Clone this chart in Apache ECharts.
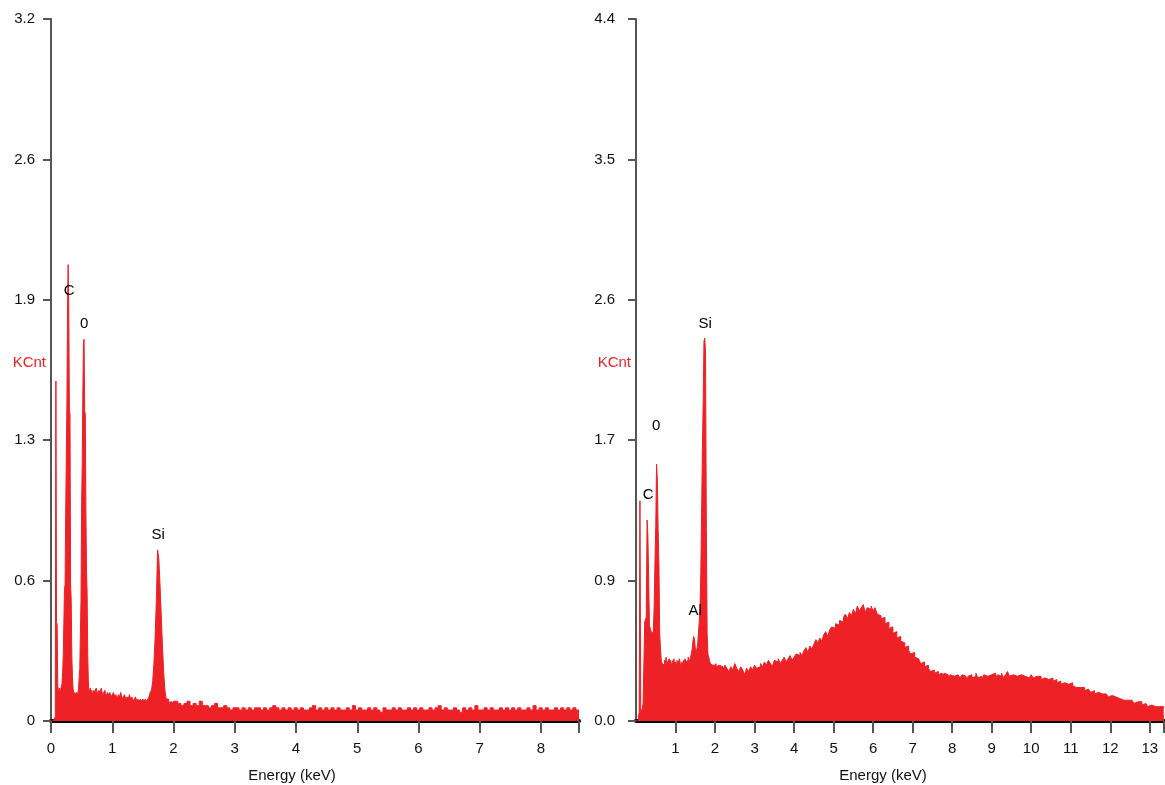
<!DOCTYPE html>
<html>
<head>
<meta charset="utf-8">
<title>EDS spectra</title>
<script src="https://cdn.jsdelivr.net/npm/echarts@6/dist/echarts.min.js"></script>
<style>
  html, body { margin: 0; padding: 0; background: #fff; }
  #chart { width: 1165px; height: 785px; }
</style>
</head>
<body>
<div id="chart"></div>
<script>
// ---- data (energy in keV, counts in KCnt) ----
// left spectrum, 0.00 - 0.70 keV, 0.01 keV channels
var leftLowStart = 0, leftLowStep = 0.01;
var leftLowCounts = [
  0, 0, 0, 0, 0, 0, 0, 0.02, 1.55, 0.45,
  0.44, 0.16, 0.14, 0.13, 0.15, 0.13, 0.14, 0.16, 0.17, 0.22,
  0.30, 0.45, 0.60, 0.62, 0.95, 1.21, 1.45, 1.88, 2.08, 1.89,
  1.42, 1.40, 0.62, 0.55, 0.30, 0.20, 0.15, 0.13, 0.12, 0.13,
  0.12, 0.12, 0.13, 0.12, 0.13, 0.15, 0.20, 0.24, 0.40, 0.55,
  1.00, 1.17, 1.50, 1.72, 1.74, 1.41, 1.40, 0.95, 0.68, 0.58,
  0.30, 0.18, 0.14, 0.13, 0.15, 0.12, 0.14, 0.13, 0.12, 0.14,
  0.13
];
// left spectrum, 0.72 - 2.00 keV, 0.02 keV channels
var leftMidStart = 0.72, leftMidStep = 0.02;
var leftMidCounts = [
  0.14, 0.15, 0.12, 0.14, 0.13, 0.15, 0.12, 0.13, 0.14, 0.11,
  0.13, 0.12, 0.13, 0.11, 0.12, 0.13, 0.11, 0.12, 0.10, 0.12,
  0.11, 0.13, 0.10, 0.11, 0.12, 0.10, 0.11, 0.10, 0.12, 0.10,
  0.11, 0.09, 0.10, 0.11, 0.09, 0.10, 0.09, 0.10, 0.09, 0.10,
  0.09, 0.10, 0.09, 0.10, 0.11, 0.13, 0.14, 0.18, 0.26, 0.38,
  0.55, 0.78, 0.74, 0.62, 0.48, 0.34, 0.22, 0.14, 0.10, 0.10,
  0.09, 0.08, 0.09, 0.08, 0.09
];
// left spectrum, 2.02 - 8.57 keV, 0.05 keV channels
var leftTailStart = 2.02, leftTailStep = 0.05;
var leftTailCounts = [
  0.09, 0.08, 0.07, 0.08, 0.09, 0.07, 0.08, 0.07, 0.09, 0.07,
  0.07, 0.06, 0.07, 0.08, 0.06, 0.06, 0.07, 0.06, 0.05, 0.06,
  0.06, 0.05, 0.06, 0.05, 0.06, 0.05, 0.06, 0.06, 0.05, 0.06,
  0.05, 0.06, 0.07, 0.06, 0.05, 0.06, 0.05, 0.06, 0.05, 0.06,
  0.05, 0.06, 0.05, 0.05, 0.06, 0.07, 0.05, 0.06, 0.05, 0.06,
  0.05, 0.06, 0.05, 0.06, 0.05, 0.05, 0.06, 0.05, 0.07, 0.05,
  0.06, 0.05, 0.05, 0.06, 0.05, 0.06, 0.05, 0.04, 0.06, 0.05,
  0.05, 0.06, 0.05, 0.06, 0.05, 0.05, 0.06, 0.05, 0.06, 0.05,
  0.06, 0.05, 0.05, 0.06, 0.05, 0.06, 0.07, 0.05, 0.06, 0.05,
  0.05, 0.06, 0.05, 0.04, 0.06, 0.05, 0.06, 0.05, 0.07, 0.05,
  0.05, 0.06, 0.05, 0.06, 0.05, 0.05, 0.06, 0.05, 0.06, 0.05,
  0.06, 0.05, 0.06, 0.05, 0.05, 0.06, 0.05, 0.07, 0.05, 0.06,
  0.05, 0.06, 0.05, 0.05, 0.06, 0.05, 0.06, 0.05, 0.06, 0.05,
  0.06, 0.05
];

// right spectrum, 0.00 - 0.70 keV, 0.02 keV channels
var rightLowStart = 0, rightLowStep = 0.02;
var rightLowCounts = [
  0, 0, 0, 0.03, 0.05, 1.38, 0.05, 0.06, 0.08, 0.11,
  0.12, 0.62, 0.62, 0.65, 1.26, 1.17, 0.90, 0.60, 0.58, 0.56,
  0.57, 0.55, 0.58, 0.72, 1.00, 1.22, 1.61, 1.51, 1.20, 0.98,
  0.55, 0.45, 0.38, 0.36, 0.37, 0.35
];
// right spectrum, 0.72 - 2.10 keV, 0.02 keV channels
var rightMidStart = 0.72, rightMidStep = 0.02;
var rightMidCounts = [
  0.38, 0.36, 0.40, 0.35, 0.37, 0.36, 0.39, 0.35, 0.38, 0.34,
  0.37, 0.36, 0.39, 0.35, 0.37, 0.34, 0.38, 0.36, 0.35, 0.39,
  0.36, 0.34, 0.37, 0.35, 0.38, 0.36, 0.39, 0.37, 0.36, 0.38,
  0.40, 0.37, 0.38, 0.40, 0.42, 0.45, 0.50, 0.53, 0.51, 0.46,
  0.43, 0.45, 0.48, 0.55, 0.62, 0.70, 0.93, 1.30, 1.70, 2.00,
  2.38, 2.40, 2.30, 1.20, 0.55, 0.42, 0.40, 0.38, 0.36, 0.37,
  0.35, 0.36, 0.34, 0.35, 0.33, 0.36, 0.34, 0.33, 0.35, 0.34
];
// right spectrum, 2.15 - 13.35 keV, 0.05 keV channels
var rightTailStart = 2.15, rightTailStep = 0.05;
var rightTailCounts = [
  0.34, 0.32, 0.35, 0.33, 0.31, 0.34, 0.32, 0.36, 0.33, 0.31, 0.34, 0.32, 0.29, 0.33, 0.31, 0.34, 0.32, 0.35, 0.33, 0.34,
  0.36, 0.34, 0.37, 0.35, 0.38, 0.36, 0.34, 0.38, 0.37, 0.39, 0.36, 0.38, 0.40, 0.37, 0.39, 0.41, 0.38, 0.40, 0.42, 0.41,
  0.43, 0.41, 0.44, 0.46, 0.43, 0.47, 0.45, 0.48, 0.51, 0.49, 0.52, 0.50, 0.54, 0.56, 0.53, 0.57, 0.59, 0.58, 0.61, 0.60,
  0.63, 0.62, 0.65, 0.67, 0.64, 0.68, 0.66, 0.70, 0.67, 0.72, 0.69, 0.71, 0.73, 0.68, 0.71, 0.70, 0.72, 0.69, 0.71, 0.67,
  0.66, 0.64, 0.65, 0.61, 0.62, 0.58, 0.59, 0.55, 0.56, 0.52, 0.53, 0.50, 0.49, 0.46, 0.47, 0.44, 0.42, 0.43, 0.40, 0.39,
  0.38, 0.36, 0.37, 0.34, 0.35, 0.33, 0.31, 0.32, 0.30, 0.31, 0.29, 0.30, 0.28, 0.30, 0.29, 0.27, 0.29, 0.28, 0.27, 0.29,
  0.28, 0.27, 0.29, 0.28, 0.26, 0.28, 0.29, 0.27, 0.28, 0.30, 0.27, 0.28, 0.26, 0.29, 0.28, 0.27, 0.29, 0.28, 0.30, 0.27,
  0.29, 0.28, 0.30, 0.27, 0.29, 0.31, 0.28, 0.29, 0.30, 0.28, 0.27, 0.29, 0.30, 0.28, 0.29, 0.27, 0.28, 0.29, 0.27, 0.28,
  0.27, 0.28, 0.26, 0.27, 0.28, 0.26, 0.25, 0.27, 0.25, 0.26, 0.24, 0.25, 0.23, 0.24, 0.25, 0.23, 0.22, 0.24, 0.22, 0.21,
  0.22, 0.21, 0.20, 0.21, 0.19, 0.20, 0.19, 0.18, 0.19, 0.17, 0.18, 0.19, 0.17, 0.16, 0.17, 0.16, 0.15, 0.16, 0.17, 0.15,
  0.15, 0.14, 0.15, 0.13, 0.14, 0.13, 0.12, 0.13, 0.12, 0.11, 0.12, 0.11, 0.12, 0.10, 0.11, 0.10, 0.09, 0.10, 0.11, 0.09,
  0.10, 0.09, 0.08, 0.09, 0.08
];

// peak labels: [energy, KCnt, element]
var leftPeaks = [[0.296, 1.96, 'C'], [0.541, 1.81, '0'], [1.748, 0.85, 'Si']];
var rightPeaks = [[0.31, 1.415, 'C'], [0.51, 1.85, '0'], [1.50, 0.69, 'Al'], [1.75, 2.49, 'Si']];

// axes
var leftXMax = 8.62, rightXMax = 13.36;
var leftYMax = 3.2, leftYStep = 0.64;
var rightYMax = 4.4, rightYStep = 0.88;
var leftYLabels = ['0', '0.6', '1.3', '1.9', '2.6', '3.2'];
var rightYLabels = ['0.0', '0.9', '1.7', '2.6', '3.5', '4.4'];
var leftXTicks = [0, 1, 2, 3, 4, 5, 6, 7, 8];
var rightXTicks = [1, 2, 3, 4, 5, 6, 7, 8, 9, 10, 11, 12, 13];

var RED = '#ed2126';
var FONT = '"Liberation Sans", Arial, sans-serif';

function spectrum(segments, xMax) {
  var pts = [];
  segments.forEach(function (s) {
    s[2].forEach(function (c, i) {
      pts.push([+(s[0] + i * s[1]).toFixed(3), c]);
    });
  });
  pts.push([xMax, pts[pts.length - 1][1]]);
  return pts;
}

var leftData = spectrum([
  [leftLowStart, leftLowStep, leftLowCounts],
  [leftMidStart, leftMidStep, leftMidCounts],
  [leftTailStart, leftTailStep, leftTailCounts]
], leftXMax);
var rightData = spectrum([
  [rightLowStart, rightLowStep, rightLowCounts],
  [rightMidStart, rightMidStep, rightMidCounts],
  [rightTailStart, rightTailStep, rightTailCounts]
], rightXMax);

function xAxis(idx, max, labels, namePad) {
  return {
    type: 'value', gridIndex: idx, min: 0, max: max,
    name: 'Energy (keV)', nameLocation: 'middle', nameGap: 47, nameMoveOverlap: false,
    nameTextStyle: { color: '#111', fontSize: 15, fontFamily: FONT, padding: namePad },
    axisLine: { show: true, onZero: false, lineStyle: { color: '#000', width: 4 } },
    axisTick: { show: true, length: 12, customValues: labels.concat([max]), lineStyle: { color: '#555', width: 2 } },
    axisLabel: { customValues: labels, margin: 20, color: '#111', fontSize: 15, fontFamily: FONT },
    splitLine: { show: false }
  };
}

function yAxis(idx, max, step, margin, labels) {
  return {
    type: 'value', gridIndex: idx, min: 0, max: max, interval: step,
    name: 'KCnt', nameLocation: 'middle', nameRotate: 0, nameGap: 5, nameMoveOverlap: false,
    nameTextStyle: { color: RED, fontSize: 15, fontFamily: FONT, verticalAlign: 'bottom' },
    axisLine: { show: true, lineStyle: { color: '#555', width: 2 } },
    axisTick: { show: true, length: 8, lineStyle: { color: '#555', width: 2 } },
    axisLabel: {
      margin: margin, color: '#111', fontSize: 15, fontFamily: FONT,
      formatter: function (v) { return labels[Math.round(v / step)]; }
    },
    splitLine: { show: false }
  };
}

function specSeries(idx, data) {
  return {
    type: 'line', xAxisIndex: idx, yAxisIndex: idx, data: data,
    step: 'end', symbol: 'none', silent: true, z: 1,
    lineStyle: { color: RED, width: 1 },
    areaStyle: { color: RED, opacity: 1 }
  };
}

function peakSeries(idx, peaks) {
  return {
    type: 'scatter', xAxisIndex: idx, yAxisIndex: idx, data: peaks,
    symbolSize: 0, silent: true, z: 5,
    itemStyle: { opacity: 1 },
    label: {
      show: true, position: 'inside', color: '#000', fontSize: 15, fontFamily: FONT,
      formatter: function (p) { return p.data[2]; }
    }
  };
}

var chart = echarts.init(document.getElementById('chart'));
chart.setOption({
  animation: false,
  grid: [
    { left: 51, right: 586, top: 19, bottom: 64, outerBoundsMode: 'none', containLabel: false },
    { left: 636, right: 1, top: 19, bottom: 64, outerBoundsMode: 'none', containLabel: false }
  ],
  xAxis: [
    xAxis(0, leftXMax, leftXTicks, [0, 46, 0, 0]),
    xAxis(1, rightXMax, rightXTicks, [0, 34, 0, 0])
  ],
  yAxis: [
    yAxis(0, leftYMax, leftYStep, 16, leftYLabels),
    yAxis(1, rightYMax, rightYStep, 21, rightYLabels)
  ],
  series: [
    specSeries(0, leftData),
    specSeries(1, rightData),
    peakSeries(0, leftPeaks),
    peakSeries(1, rightPeaks)
  ]
});
</script>
</body>
</html>
